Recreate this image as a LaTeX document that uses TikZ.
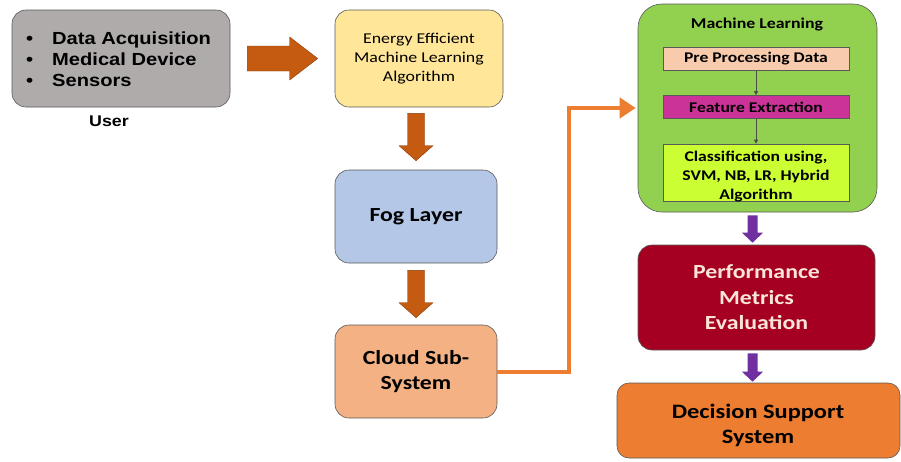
\documentclass[tikz,border=0pt]{standalone}
\usepackage{fontspec}
\setmainfont{Carlito}[FakeStretch=1.19]
\newfontfamily\arialfont{Liberation Sans}[FakeStretch=1.15]
\usetikzlibrary{arrows.meta,calc}

\definecolor{usergray}{HTML}{AFABAB}
\definecolor{energyyellow}{HTML}{FFE699}
\definecolor{fogblue}{HTML}{B4C7E7}
\definecolor{cloudpeach}{HTML}{F4B183}
\definecolor{mlgreen}{HTML}{92D050}
\definecolor{prepink}{HTML}{F8CBAD}
\definecolor{featmagenta}{HTML}{CC3399}
\definecolor{clslime}{HTML}{CCFF33}
\definecolor{perfred}{HTML}{A50021}
\definecolor{perftext}{HTML}{FBE5D6}
\definecolor{decorange}{HTML}{ED7D31}
\definecolor{arrowbrown}{HTML}{C55A11}
\definecolor{arrowpurple}{HTML}{7030A0}

% block arrow going down: from, to, style, top gap, bottom gap, half shaft, half head, head length
\newcommand{\fatdown}[8]{%
\draw[#3] let \p1=(#1), \p2=(#2) in
 (\x1-#6pt,\y1-#4pt) -- (\x1+#6pt,\y1-#4pt) -- (\x1+#6pt,\y2+#5pt+#8pt)
 -- (\x1+#7pt,\y2+#5pt+#8pt) -- (\x1,\y2+#5pt) -- (\x1-#7pt,\y2+#5pt+#8pt)
 -- (\x1-#6pt,\y2+#5pt+#8pt) -- cycle;}

\begin{document}
\begin{tikzpicture}[x=1pt,y=-1pt,
  box/.style={draw=black!65, line width=0.6pt, rounded corners=14pt, align=center, inner sep=0pt},
  inbox/.style={draw=black!65, line width=0.6pt, align=center, inner sep=0pt, minimum width=186pt,
    font=\fontsize{14.8}{19}\selectfont\bfseries},
  brownarrow/.style={fill=arrowbrown, draw=arrowbrown!70!black, line width=0.4pt},
  purplearrow/.style={fill=arrowpurple, draw=none},
  thinarrow/.style={draw=black!70, line width=0.6pt, -{Triangle[length=4pt,width=4pt]}}]
\useasboundingbox (0,0) rectangle (901,461);

% left column
\node[box, fill=usergray, minimum width=218pt, minimum height=97pt] (user) at (121,58.5) {};
\node[anchor=west, inner sep=0pt, align=left, font=\arialfont\fontsize{17.5}{21}\selectfont\bfseries]
  (userlist) at (26,59)
  {\makebox[26pt][l]{\textbullet}Data Acquisition\\
   \makebox[26pt][l]{\textbullet}Medical Device\\
   \makebox[26pt][l]{\textbullet}Sensors};
\node[font=\arialfont\fontsize{15.5}{18}\selectfont\bfseries] (userlabel) at (109,121) {User};

\node[box, fill=energyyellow, minimum width=168pt, minimum height=97pt,
  font=\fontsize{15}{19}\selectfont] (energy) at (419,58.5)
  {Energy Efficient\\Machine Learning\\Algorithm};
\node[box, fill=fogblue, minimum width=162pt, minimum height=93pt,
  font=\fontsize{20}{25}\selectfont\bfseries] (fog) at (416,216.5) {Fog Layer};
\node[box, fill=cloudpeach, minimum width=162pt, minimum height=93pt,
  font=\fontsize{20}{25}\selectfont\bfseries] (cloud) at (416,371.5) {Cloud Sub-\\System};

% machine learning block
\node[box, fill=mlgreen, rounded corners=24pt, minimum width=239pt, minimum height=208pt] (ml) at (757.5,108) {};
\node[font=\fontsize{15}{18}\selectfont\bfseries] (mltitle) at (757,25) {Machine Learning};
\node[inbox, fill=prepink, minimum height=23pt] (pre) at (756,59) {Pre Processing Data};
\node[inbox, fill=featmagenta, minimum height=23pt] (feat) at (756,107) {Feature Extraction};
\node[inbox, fill=clslime, minimum height=57pt] (cls) at (756,172.5) {};
\node[align=center, inner sep=0pt, font=\fontsize{14.8}{19}\selectfont\bfseries] (clstext) at (756,177)
  {Classification using,\\SVM, NB, LR, Hybrid\\Algorithm};
\draw[thinarrow] (pre) -- (feat);
\draw[thinarrow] (feat) -- (cls);

\node[box, fill=perfred, text=perftext, minimum width=237pt, minimum height=105pt,
  font=\fontsize{20}{25.5}\selectfont\bfseries] (perf) at (756.5,297.5)
  {Performance\\Metrics\\Evaluation};
\node[box, fill=decorange, rounded corners=12pt, minimum width=283pt, minimum height=75pt] (dec) at (758.5,420.5) {};
\node[align=center, inner sep=0pt, font=\fontsize{20.5}{25}\selectfont\bfseries] (dectext) at (758,425)
  {Decision Support\\System};

% block arrows
\draw[brownarrow] let \p1=(user.east), \p2=(energy.west) in
  (\x1+17pt,\y1+12.5pt) -- (\x2-45pt,\y1+12.5pt) -- (\x2-45pt,\y1+21.5pt) -- (\x2-17pt,\y1)
  -- (\x2-45pt,\y1-21.5pt) -- (\x2-45pt,\y1-12.5pt) -- (\x1+17pt,\y1-12.5pt) -- cycle;
\fatdown{$(energy.south)+(-3,0)$}{fog.north}{brownarrow}{6}{9}{8.5}{17}{15}
\fatdown{fog.south}{cloud.north}{brownarrow}{7}{7}{8.5}{17}{15}
\fatdown{$(ml.south)+(-5,0)$}{perf.north}{purplearrow}{3}{2}{5}{10.5}{10}
\fatdown{$(perf.south)+(-4,0)$}{dec.north}{purplearrow}{3}{1}{5}{10.5}{10}

% cloud to machine learning
\draw[draw=decorange, line width=4pt, shorten >=2pt, -{Triangle[length=16pt,width=20pt]}]
  (cloud.east) -- ++(72,0) |- (ml.west);
\end{tikzpicture}
\end{document}
